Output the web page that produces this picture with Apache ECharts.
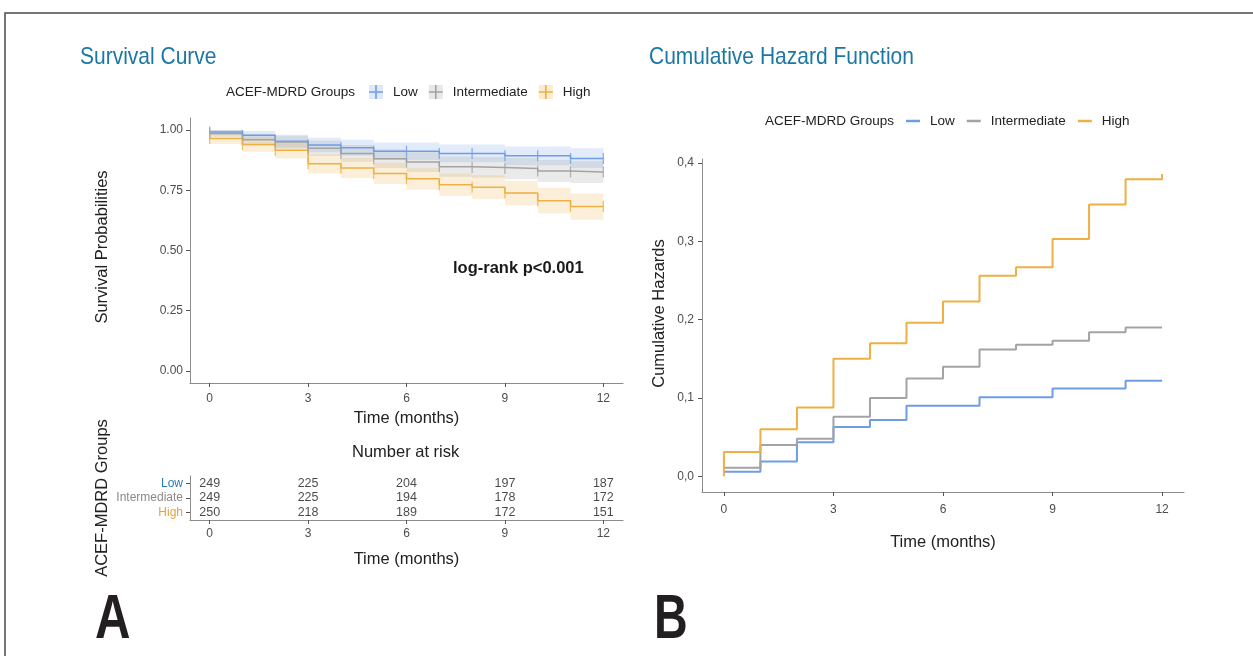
<!DOCTYPE html>
<html>
<head>
<meta charset="utf-8">
<script src="https://cdn.jsdelivr.net/npm/echarts@6/dist/echarts.min.js"></script>
<style>
  html, body { margin: 0; padding: 0; background: #fff; }
  #main { width: 1253px; height: 656px; }
</style>
</head>
<body>
<div id="main"></div>
<script>
'use strict';
// ---- data ----
var groups = ['Low', 'Intermediate', 'High'];
var months = [0, 1, 2, 3, 4, 5, 6, 7, 8, 9, 10, 11, 12];

// survival estimate per month (value held until next month)
var survLow  = [0.992, 0.978, 0.954, 0.938, 0.927, 0.912, 0.912, 0.903, 0.903, 0.893, 0.893, 0.882, 0.882];
var survInt  = [0.986, 0.960, 0.950, 0.924, 0.903, 0.881, 0.867, 0.848, 0.845, 0.840, 0.830, 0.826, 0.826];
var survHigh = [0.965, 0.940, 0.916, 0.860, 0.842, 0.820, 0.798, 0.773, 0.763, 0.739, 0.707, 0.683, 0.683];
// confidence bands
var lowLo  = [0.980, 0.960, 0.928, 0.908, 0.894, 0.876, 0.876, 0.866, 0.866, 0.854, 0.854, 0.842, 0.842];
var lowHi  = [1.000, 0.996, 0.980, 0.968, 0.960, 0.948, 0.948, 0.940, 0.940, 0.932, 0.932, 0.924, 0.924];
var intLo  = [0.972, 0.936, 0.922, 0.892, 0.868, 0.842, 0.826, 0.806, 0.802, 0.796, 0.784, 0.780, 0.780];
var intHi  = [1.000, 0.984, 0.976, 0.956, 0.938, 0.920, 0.908, 0.890, 0.888, 0.884, 0.876, 0.872, 0.872];
var highLo = [0.942, 0.910, 0.882, 0.820, 0.800, 0.776, 0.752, 0.726, 0.714, 0.688, 0.654, 0.628, 0.628];
var highHi = [0.988, 0.970, 0.950, 0.900, 0.884, 0.864, 0.844, 0.820, 0.812, 0.790, 0.760, 0.737, 0.737];

// number at risk
var riskTimes = [0, 3, 6, 9, 12];
var riskLow  = [249, 225, 204, 197, 187];
var riskInt  = [249, 225, 194, 178, 172];
var riskHigh = [250, 218, 189, 172, 151];

// cumulative hazard per month
var hazLow  = [0.006, 0.019, 0.0435, 0.063, 0.072, 0.090, 0.090, 0.101, 0.101, 0.112, 0.112, 0.122, 0.122];
var hazInt  = [0.011, 0.040, 0.048, 0.076, 0.100, 0.125, 0.140, 0.162, 0.168, 0.173, 0.184, 0.190, 0.190];
var hazHigh = [0.031, 0.060, 0.088, 0.150, 0.170, 0.196, 0.223, 0.256, 0.267, 0.303, 0.347, 0.379, 0.379];
var hazHighStart = 0;
var hazHighEnd = 0.386;

var xTicks = [0, 3, 6, 9, 12];
var survTicks = [0, 0.25, 0.5, 0.75, 1];
var hazTicks = [0, 0.1, 0.2, 0.3, 0.4];

// ---- styles ----
var colLine = { Low: '#6e9de6', Intermediate: '#a3a3a3', High: '#eeb042' };
var colBand = { Low: 'rgba(110,157,230,0.2)', Intermediate: 'rgba(150,150,150,0.2)', High: 'rgba(238,176,66,0.2)' };
var colBox  = { Low: '#dde8f9', Intermediate: '#e8e8e8', High: '#fcebcc' };
var colRisk = { Low: '#2b7bb0', Intermediate: '#8a8a8a', High: '#e9a23b' };
var FONT = 'Liberation Sans, Arial, sans-serif';
var PLUS = 'path://M0,6.2H14V7.8H0Z M6.2,0H7.8V14H6.2Z';

function pts(xs, ys) { return xs.map(function (x, i) { return [x, ys[i]]; }); }

var axisLine = { show: true, onZero: false, lineStyle: { color: '#8c8c8c', width: 1 } };
var axisTick = { show: true, length: 4, lineStyle: { color: '#555' } };
var tickLabel = { color: '#4d4d4d', fontSize: 12, fontFamily: FONT };
var axisName = { color: '#222', fontSize: 16.5, fontFamily: FONT };

function timeAxis(grid, gap, margin) {
  return {
    type: 'value', gridIndex: grid, min: -0.6, max: 12.6,
    name: 'Time (months)', nameLocation: 'middle', nameGap: gap, nameTextStyle: axisName,
    axisLine: axisLine,
    axisTick: Object.assign({ customValues: xTicks }, axisTick),
    axisLabel: Object.assign({ customValues: xTicks, margin: margin }, tickLabel),
    splitLine: { show: false }
  };
}

// step-shaped confidence ribbon, placed through the axis scales
function bandRender(lo, hi, color) {
  return function (params, api) {
    if (params.dataIndex !== 0) return null;
    var upper = [], lower = [];
    for (var i = 0; i < months.length - 1; i++) {
      upper.push(api.coord([months[i], hi[i]]), api.coord([months[i + 1], hi[i]]));
    }
    for (var j = months.length - 2; j >= 0; j--) {
      lower.push(api.coord([months[j + 1], lo[j]]), api.coord([months[j], lo[j]]));
    }
    return { type: 'polygon', shape: { points: upper.concat(lower) }, style: { fill: color } };
  };
}

var series = [];
var bands = { Low: [lowLo, lowHi], Intermediate: [intLo, intHi], High: [highLo, highHi] };
var surv = { Low: survLow, Intermediate: survInt, High: survHigh };
var risk = { Low: riskLow, Intermediate: riskInt, High: riskHigh };
var haz = { Low: pts(months, hazLow), Intermediate: pts(months, hazInt),
  High: [[0, hazHighStart]].concat(pts(months, hazHigh), [[12, hazHighEnd]]) };

groups.forEach(function (g) {
  series.push({
    type: 'custom', name: g + ' band', xAxisIndex: 0, yAxisIndex: 0, silent: true, z: 1,
    data: months.map(function (m, i) { return [m, bands[g][0][i], bands[g][1][i]]; }),
    encode: { x: 0, y: [1, 2] },
    renderItem: bandRender(bands[g][0], bands[g][1], colBand[g])
  });
});
groups.forEach(function (g) {
  series.push({
    type: 'line', name: g, xAxisIndex: 0, yAxisIndex: 0, step: 'end',
    data: pts(months, surv[g]), symbol: 'none', lineStyle: { color: colLine[g], width: 1.5 },
    itemStyle: { color: colLine[g] }, z: 3
  });
  series.push({
    type: 'scatter', name: g + ' censor', xAxisIndex: 0, yAxisIndex: 0,
    data: pts(months, surv[g]), symbol: 'rect', symbolSize: [1.3, 11],
    itemStyle: { color: colLine[g] }, silent: true, z: 4
  });
  series.push({
    type: 'scatter', name: g + ' risk', xAxisIndex: 1, yAxisIndex: 1,
    data: riskTimes.map(function (t, i) { return [t, g, risk[g][i]]; }),
    symbolSize: 1, itemStyle: { color: 'rgba(0,0,0,0)' }, silent: true,
    label: { show: true, position: 'inside', color: '#1a1a1a', fontSize: 12.5, fontFamily: FONT,
      formatter: function (p) { return p.value[2]; } }
  });
  series.push({
    type: 'line', name: g, xAxisIndex: 2, yAxisIndex: 2, step: 'end',
    data: haz[g], symbol: 'none', lineStyle: { color: colLine[g], width: 2 },
    itemStyle: { color: colLine[g] }, z: 3
  });
});

function titleText(text, left, top, style) {
  return { text: text, left: left, top: top, padding: 0,
    textStyle: Object.assign({ fontFamily: FONT, fontWeight: 'normal', fontSize: 13.5, color: '#222' }, style || {}) };
}
function narrowText(text, x, y, font, color, sx) {
  return { type: 'text', x: x, y: y, scaleX: sx, silent: true,
    style: { text: text, font: font, fill: color, verticalAlign: 'middle' } };
}

var option = {
  backgroundColor: '#fff',
  animation: false,
  title: [
    titleText('ACEF-MDRD Groups', 226, 85),
    titleText('ACEF-MDRD Groups', 765, 114),
    titleText('Number at risk', 352, 444, { fontSize: 16.5 }),
    titleText('log-rank p<0.001', 453, 260, { fontSize: 16.5, fontWeight: 'bold', color: '#1a1a1a' })
  ],
  legend: [
    {
      left: 369, top: 85, orient: 'horizontal', itemWidth: 14, itemHeight: 14, itemGap: 11,
      selectedMode: false, padding: 0, icon: 'rect',
      textStyle: { color: 'rgba(0,0,0,0)', fontSize: 13.5, fontFamily: FONT, padding: [0, 0, 0, 5] },
      data: groups.map(function (g) { return { name: g, itemStyle: { color: colBox[g] } }; })
    },
    {
      left: 369, top: 85, orient: 'horizontal', itemWidth: 14, itemHeight: 14, itemGap: 11,
      selectedMode: false, padding: 0, icon: PLUS,
      textStyle: { color: '#222', fontSize: 13.5, fontFamily: FONT, padding: [0, 0, 0, 5] },
      data: groups.map(function (g) { return { name: g, itemStyle: { color: colLine[g] } }; })
    },
    {
      left: 906, top: 114, orient: 'horizontal', itemWidth: 14, itemHeight: 2.5, itemGap: 12,
      selectedMode: false, padding: 0, icon: 'rect',
      textStyle: { color: '#222', fontSize: 13.5, fontFamily: FONT, padding: [0, 0, 0, 5] },
      data: groups.map(function (g) { return { name: g, itemStyle: { color: colLine[g] } }; })
    }
  ],
  grid: [
    { left: 190, top: 118, width: 433, height: 265 },
    { left: 190, top: 476, width: 433, height: 44 },
    { left: 702, top: 159, width: 482, height: 333 }
  ],
  xAxis: [timeAxis(0, 27, 10), timeAxis(1, 31, 8), timeAxis(2, 42, 12)],
  yAxis: [
    {
      type: 'value', gridIndex: 0, min: -0.05, max: 1.05,
      name: 'Survival Probabilities', nameLocation: 'middle', nameGap: 79,
      nameTextStyle: Object.assign({ padding: [0, 0, 0, 7] }, axisName),
      axisLine: axisLine,
      axisTick: Object.assign({ customValues: survTicks }, axisTick),
      axisLabel: Object.assign({ customValues: survTicks, margin: 7,
        formatter: function (v) { return v.toFixed(2); } }, tickLabel),
      splitLine: { show: false }
    },
    {
      type: 'category', gridIndex: 1, data: ['High', 'Intermediate', 'Low'],
      name: 'ACEF-MDRD Groups', nameLocation: 'middle', nameGap: 79, nameTextStyle: axisName,
      axisLine: axisLine,
      axisTick: Object.assign({ alignWithLabel: true, interval: 0 }, axisTick),
      axisLabel: Object.assign({}, tickLabel, { margin: 7, interval: 0,
        color: function (v) { return colRisk[v]; } })
    },
    {
      type: 'value', gridIndex: 2, min: -0.02, max: 0.405,
      name: 'Cumulative Hazards', nameLocation: 'middle', nameGap: 34,
      nameTextStyle: Object.assign({ padding: [0, 0, 0, 24] }, axisName),
      axisLine: axisLine,
      axisTick: Object.assign({ customValues: hazTicks }, axisTick),
      axisLabel: Object.assign({ customValues: hazTicks, margin: 8,
        formatter: function (v) { return v.toFixed(1).replace('.', ','); } }, tickLabel),
      splitLine: { show: false }
    }
  ],
  graphic: [
    { type: 'polyline', silent: true, shape: { points: [[5, 656], [5, 13], [1253, 13]] },
      style: { stroke: '#4a4a4a', lineWidth: 1.5, fill: null } },
    narrowText('Survival Curve', 80, 57, 'normal 24px Liberation Sans', '#1b77a3', 0.875),
    narrowText('Cumulative Hazard Function', 649, 57, 'normal 24px Liberation Sans', '#1b77a3', 0.875),
    narrowText('A', 95, 621, 'bold 63px Liberation Sans', '#231f20', 0.78),
    narrowText('B', 654, 621, 'bold 63px Liberation Sans', '#231f20', 0.74)
  ],
  series: series
};

var chart = echarts.init(document.getElementById('main'));
chart.setOption(option);
</script>
</body>
</html>
